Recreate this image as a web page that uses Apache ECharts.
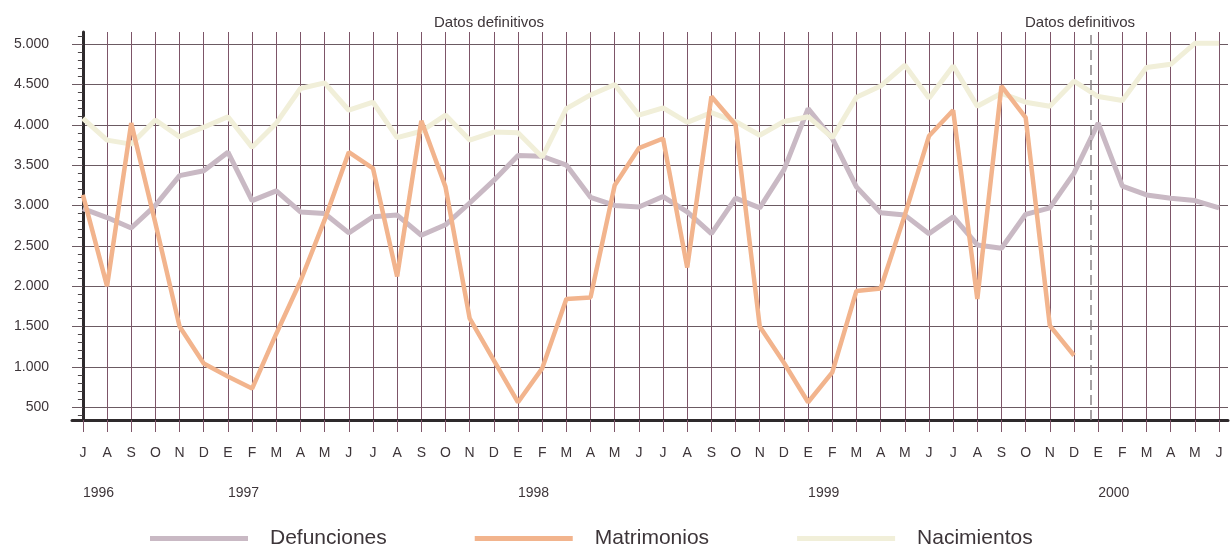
<!DOCTYPE html>
<html>
<head>
<meta charset="utf-8">
<script src="https://cdn.jsdelivr.net/npm/echarts@6/dist/echarts.min.js"></script>
<style>
html,body{margin:0;padding:0;background:#fff;}
#chart{width:1232px;height:546px;}
</style>
</head>
<body>
<div id="chart"></div>
<script>
// Month initials, July 1996 .. June 2000
const months = ['J','A','S','O','N','D',
  'E','F','M','A','M','J','J','A','S','O','N','D',
  'E','F','M','A','M','J','J','A','S','O','N','D',
  'E','F','M','A','M','J','J','A','S','O','N','D',
  'E','F','M','A','M','J'];
const yearLabels = ['1996','1997','1998','1999','2000'];
const yearTickIndex = [0, 6, 18, 30, 42];
const yTicks = [500,1000,1500,2000,2500,3000,3500,4000,4500,5000];

const defunciones = [2960,2850,2720,3000,3370,3430,3660,3060,3180,2920,2900,2660,
  2860,2880,2630,2760,3030,3310,3620,3610,3500,3100,3000,2980,
  3110,2920,2650,3090,2970,3440,4200,3830,3230,2910,2880,2650,
  2860,2510,2470,2890,2970,3400,4020,3240,3130,3090,3060,2970];
const matrimonios = [3130,2000,4020,2780,1500,1040,880,730,1410,2060,2820,3660,
  3460,2120,4050,3230,1600,1080,560,980,1840,1860,3250,3710,
  3830,2230,4350,4000,1500,1050,560,930,1940,1970,2880,3860,
  4180,1840,4480,4090,1510,1140];
const nacimientos = [4080,3810,3760,4060,3850,3970,4100,3720,4020,4450,4520,4180,
  4280,3840,3920,4120,3810,3910,3900,3600,4200,4370,4500,4120,
  4210,4030,4150,4040,3870,4040,4100,3840,4340,4480,4740,4330,
  4730,4230,4390,4280,4230,4540,4350,4300,4710,4750,5010,5010];
const seriesNames = ['Defunciones','Matrimonios','Nacimientos'];
const dashedAt = 41.7; // boundary "Datos definitivos"

const toPairs = arr => arr.map((v, i) => [i, v]);
const fmt = v => String(v).replace(/\B(?=(\d{3})+(?!\d))/g, '.');
const monthIdx = months.map((m, i) => i);
const minorTicks = [];
for (let v = 400; v <= 5100; v += 100) if (v % 500 !== 0) minorTicks.push(v);

const chart = echarts.init(document.getElementById('chart'));
const option = {
  backgroundColor: '#ffffff',
  animation: false,
  title: [
    {text: 'Datos definitivos', left: 429, top: 10,
     textStyle: {fontFamily: 'Liberation Sans', fontSize: 15, fontWeight: 'normal', color: '#3d3539'}},
    {text: 'Datos definitivos', left: 1020, top: 10,
     textStyle: {fontFamily: 'Liberation Sans', fontSize: 15, fontWeight: 'normal', color: '#3d3539'}}
  ],
  legend: {
    left: 145, top: 523,
    icon: 'rect', itemWidth: 98, itemHeight: 5, itemGap: 88,
    textStyle: {fontFamily: 'Liberation Sans', fontSize: 21, color: '#3d3539', padding: [0,0,0,17]},
    data: seriesNames
  },
  grid: {left: 72, right: 4, top: 32, bottom: 126, containLabel: false},
  xAxis: [
    {
      type: 'value', min: -0.45, max: 47.37,
      axisLine: {show: true, lineStyle: {color: '#2e2a2c', width: 3}},
      axisTick: {show: true, customValues: monthIdx, length: 12, lineStyle: {color: '#7d5568', width: 1}},
      axisLabel: {customValues: monthIdx, formatter: v => months[v] || '', margin: 26,
        fontFamily: 'Liberation Sans', fontSize: 14, color: '#3d3539'},
      splitLine: {show: true, lineStyle: {color: '#7d5568', width: 1}}
    },
    {
      type: 'value', min: -0.45, max: 47.37, position: 'bottom',
      axisLine: {show: false}, axisTick: {show: false}, splitLine: {show: false},
      axisLabel: {customValues: yearTickIndex,
        formatter: v => yearLabels[yearTickIndex.indexOf(v)] || '',
        align: 'left', margin: 66, fontFamily: 'Liberation Sans', fontSize: 14, color: '#3d3539'}
    }
  ],
  yAxis: [
    {
      type: 'value', min: 340, max: 5150,
      axisLine: {show: true, lineStyle: {color: '#2e2a2c', width: 3}},
      axisTick: {show: true, customValues: yTicks, length: 10, lineStyle: {color: '#6b5a62', width: 1}},
      axisLabel: {customValues: yTicks, formatter: fmt, margin: 23,
        fontFamily: 'Liberation Sans', fontSize: 14, color: '#3d3539'},
      splitLine: {show: true, lineStyle: {color: '#6b5a62', width: 1}}
    },
    {
      type: 'value', min: 340, max: 5150, position: 'left',
      axisLine: {show: false}, splitLine: {show: false}, axisLabel: {show: false},
      axisTick: {show: true, customValues: minorTicks, length: 5, lineStyle: {color: '#4a4446', width: 1}}
    }
  ],
  series: [
    {
      name: 'Defunciones', type: 'line', data: toPairs(defunciones),
      showSymbol: false, symbol: 'none', color: '#c9b9c4',
      lineStyle: {width: 5, color: '#c9b9c4'},
      markLine: {
        silent: true, symbol: ['none','none'], label: {show: false},
        lineStyle: {color: '#8a8486', type: [10,5], width: 1.5},
        data: [{xAxis: dashedAt}]
      }
    },
    {
      name: 'Nacimientos', type: 'line', data: toPairs(nacimientos),
      showSymbol: false, symbol: 'none', color: '#f1efd9',
      lineStyle: {width: 5, color: '#f1efd9'}
    },
    {
      name: 'Matrimonios', type: 'line', data: toPairs(matrimonios),
      showSymbol: false, symbol: 'none', color: '#f2b48d',
      lineStyle: {width: 4.5, color: '#f2b48d'}
    }
  ]
};
chart.setOption(option);
</script>
</body>
</html>
